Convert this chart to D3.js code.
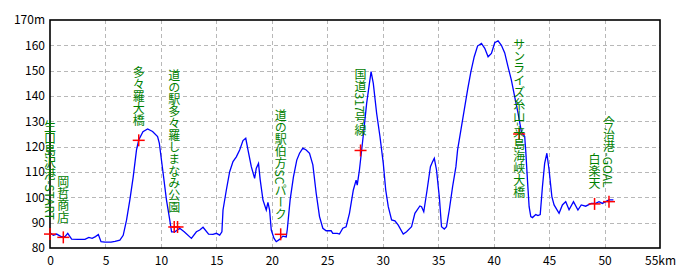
<!DOCTYPE html>
<html>
<head>
<meta charset="utf-8">
<script src="https://cdn.jsdelivr.net/npm/d3@7"></script>
<style>
  body { margin: 0; background: #fff; }
  svg { display: block; font-family: "Noto Sans CJK JP", "DejaVu Sans", sans-serif; }
</style>
</head>
<body>
<svg id="plot"></svg>
<script>
const WIDTH = 700;
const HEIGHT = 280;

// Elevation profile (distance km, elevation m)
const distKm = [
    0, 0.3, 0.6, 1.0, 1.35, 1.6, 1.95, 2.5, 3.15, 3.5, 3.8, 4.1, 4.36, 4.6, 4.96, 5.5, 5.86, 6.3, 6.6, 6.9,
    7.2, 7.5, 7.8, 8.0, 8.38, 8.8, 9.25, 9.7, 9.86, 10.2, 10.5, 10.8, 10.96, 11.26, 11.7, 12.1, 12.75, 13.2, 13.5, 13.8,
    14.3, 14.7, 15.0, 15.3, 15.5, 15.6, 15.9, 16.2, 16.5, 16.8, 17.1, 17.4, 17.65, 17.85, 18.15, 18.45, 18.6, 18.8, 18.95, 19.2,
    19.5, 19.65, 19.8, 19.95, 20.2, 20.4, 20.7, 21.0, 21.3, 21.4, 21.65, 21.95, 22.25, 22.5, 22.8, 23.1, 23.4, 23.7, 24.0, 24.3,
    24.6, 24.9, 25.35, 25.5, 25.9, 26.1, 26.4, 26.7, 27.0, 27.35, 27.6, 27.7, 27.9, 28.1, 28.3, 28.55, 28.8, 28.95, 29.15, 29.45,
    29.75, 30.05, 30.27, 30.5, 30.8, 31.1, 31.4, 31.85, 32.15, 32.6, 32.9, 33.35, 33.5, 33.7, 34.0, 34.3, 34.5, 34.65, 34.85, 35.1,
    35.3, 35.55, 35.75, 36.0, 36.3, 36.6, 36.75, 37.05, 37.35, 37.65, 37.95, 38.25, 38.55, 38.9, 39.2, 39.5, 39.8, 40.1, 40.4, 40.7,
    41.0, 41.3, 41.6, 41.9, 42.2, 42.5, 42.8, 42.9, 43.05, 43.2, 43.35, 43.5, 43.8, 44.0, 44.2, 44.4, 44.6, 44.8, 45.0, 45.25,
    45.45, 45.9, 46.2, 46.5, 46.8, 47.2, 47.6, 47.9, 48.3, 48.8, 49.2, 49.5, 49.8, 50.1, 50.4, 50.8
];
const elevM = [
    86, 85, 85.5, 84.5, 84.5, 85.8, 83.5, 83.4, 83.4, 84.2, 83.8, 84.5, 85.3, 82.5, 82.3, 82.3, 82.6, 83.1, 85, 91,
    99, 108, 118.7, 122.6, 125.9, 127, 126, 124, 121.3, 109.5, 99, 91, 86.4, 86.4, 87.8, 86.4, 83.8, 86.4, 87.1, 88.2,
    85.5, 85.4, 85.8, 85.1, 86.4, 95, 102.9, 110.1, 114.1, 116, 118.7, 122.4, 123.3, 118.7, 112.1, 107.5, 111.5, 113.4, 107, 99,
    95, 98, 95, 87.1, 83.8, 82.5, 83.4, 84.7, 84.4, 87.5, 99, 108.1, 114.7, 117.4, 119.4, 118.7, 117.4, 112.8, 101.6, 92.4,
    87.8, 86.8, 86.8, 85.8, 85.8, 85.5, 87.8, 88.4, 93.7, 102.9, 106.8, 104.8, 110.8, 118.7, 126.6, 137.1, 145, 149.6, 145, 133.2,
    124, 113.4, 102.9, 96.3, 91.1, 90.7, 89, 85.5, 86.4, 88.4, 93.7, 96.6, 96.3, 94.3, 102.9, 112.1, 114.1, 115.4, 110.8, 100.3,
    88.4, 87.5, 88.4, 95, 104.2, 112.1, 118.7, 126.6, 134.5, 142.4, 149.6, 155.5, 159.7, 160.8, 158.8, 155.5, 156.8, 161, 161.8, 160,
    157, 151.5, 146.3, 139.7, 133.2, 125.9, 124, 118, 106.8, 96.3, 92.4, 92, 93.2, 92.8, 93.2, 104.2, 113.4, 117.4, 110.8, 100.3,
    97, 93.7, 97, 98.3, 95.1, 98.3, 95, 97, 96.5, 97.6, 97.6, 98.3, 97.6, 98.3, 99, 99
];

// Waypoints
const markerKm = [0, 1.2, 8.0, 11.2, 11.5, 20.8, 28.0, 42.3, 49.1, 50.4];
const markerElev = [85.5, 84.2, 122.5, 88.3, 88.3, 85.4, 118.5, 125, 97.4, 98.3];
const markerLabels = [
    '生口島沢港-START', '岡哲商店', '多々羅大橋', '道の駅多々羅しまなみ公園', '',
    '道の駅伯方SCパーク', '国道317号線', 'サンライズ糸山-来島海峡大橋', '白楽天', '今治港-GOAL'
];

const xTicks = [0, 5, 10, 15, 20, 25, 30, 35, 40, 45, 50, 55];
const yTicks = [80, 90, 100, 110, 120, 130, 140, 150, 160, 170];

function start() {
    const left = 50, right = 660, top = 20, bottom = 248;

    let chart = d3.select('#plot')
        .attr('width', WIDTH)
        .attr('height', HEIGHT);

    let xScale = d3.scaleLinear().domain([0, 55]).range([left, right]);
    let yScale = d3.scaleLinear().domain([80, 170]).range([bottom, top]);

    // grid
    chart.append('g')
        .selectAll('line')
        .data(xTicks.filter(t => t > 0 && t < 55))
        .enter().append('line')
            .attr('x1', d => Math.round(xScale(d)) + 0.5)
            .attr('x2', d => Math.round(xScale(d)) + 0.5)
            .attr('y1', top).attr('y2', bottom)
            .attr('stroke', '#b8b8b8')
            .attr('stroke-dasharray', '4,3');
    chart.append('g')
        .selectAll('line')
        .data(yTicks.filter(t => t > 80 && t < 170))
        .enter().append('line')
            .attr('y1', d => Math.round(yScale(d)) + 0.5)
            .attr('y2', d => Math.round(yScale(d)) + 0.5)
            .attr('x1', left).attr('x2', right)
            .attr('stroke', '#b8b8b8')
            .attr('stroke-dasharray', '4,3');

    // axes (labels only)
    let xAxis = chart.append('g')
        .attr('transform', `translate(0, ${bottom})`)
        .call(d3.axisBottom(xScale).tickValues(xTicks).tickSize(0).tickPadding(8)
            .tickFormat(d => d === 55 ? '55km' : d));
    let yAxis = chart.append('g')
        .attr('transform', `translate(${left}, 0)`)
        .call(d3.axisLeft(yScale).tickValues(yTicks).tickSize(0).tickPadding(5)
            .tickFormat(d => d === 170 ? '170m' : d));
    [xAxis, yAxis].forEach(a => {
        a.select('.domain').remove();
        a.selectAll('text')
            .attr('fill', '#000')
            .style('font-size', '12px')
            .style('font-family', '"Noto Sans CJK JP", sans-serif');
    });

    // profile line
    let line = d3.line()
        .x((d, i) => xScale(distKm[i]))
        .y(d => yScale(d));
    chart.append('path')
        .datum(elevM)
        .attr('d', line)
        .attr('fill', 'none')
        .attr('stroke', '#0000ff')
        .attr('stroke-width', 1.3);

    // frame
    chart.append('rect')
        .attr('x', left).attr('y', top)
        .attr('width', right - left).attr('height', bottom - top)
        .attr('fill', 'none')
        .attr('stroke', '#000')
        .attr('stroke-width', 1.6);

    // waypoint crosses
    let marks = chart.append('g');
    markerKm.forEach((k, i) => {
        let cx = xScale(k), cy = yScale(markerElev[i]);
        marks.append('line')
            .attr('x1', cx - 6).attr('x2', cx + 6)
            .attr('y1', cy).attr('y2', cy)
            .attr('stroke', '#ff0000').attr('stroke-width', 1.5);
        marks.append('line')
            .attr('x1', cx).attr('x2', cx)
            .attr('y1', cy - 6).attr('y2', cy + 6)
            .attr('stroke', '#ff0000').attr('stroke-width', 1.5);
    });

    // vertical labels, ending above each cross
    markerLabels.forEach((label, i) => {
        if (!label) return;
        let cx = xScale(markerKm[i]), cy = yScale(markerElev[i]);
        let t = chart.append('text')
            .attr('x', cx)
            .attr('y', cy - 14)
            .attr('text-anchor', 'end')
            .attr('dominant-baseline', 'central')
            .style('writing-mode', 'vertical-rl')
            .style('font-size', '12px')
            .attr('fill', '#008000')
            .text(label);
        let len = t.node().getComputedTextLength();
        if (cy - 14 - len < top + 18) {
            t.attr('text-anchor', 'start').attr('y', top + 18);
        }
    });
}

window.onload = start;
</script>
</body>
</html>
